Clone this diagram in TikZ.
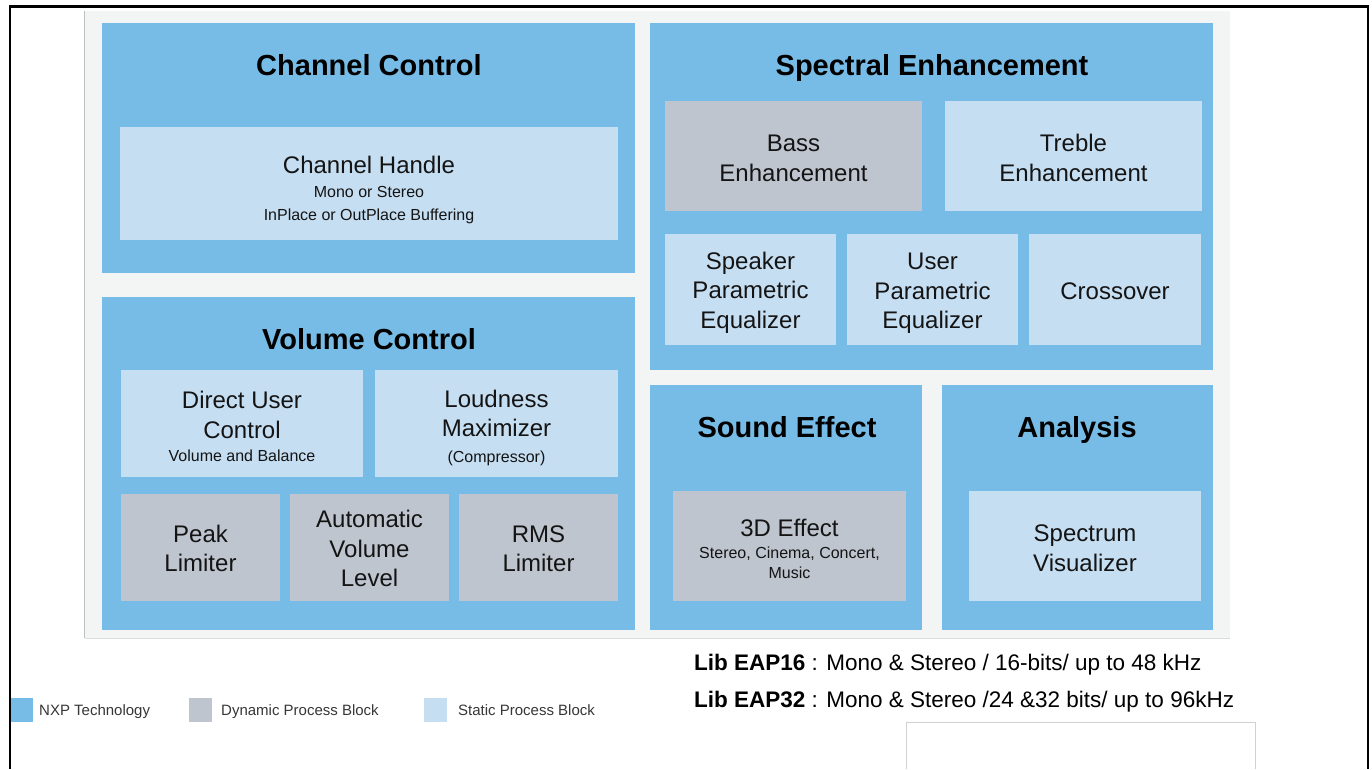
\documentclass[tikz,border=0pt]{standalone}
\usepackage{fontspec}
\setmainfont{Liberation Sans}
\definecolor{nxpblue}{RGB}{119,188,230}
\definecolor{statblk}{RGB}{198,222,242}
\definecolor{dynblk}{RGB}{191,197,206}
\definecolor{panelbg}{RGB}{243,244,244}
\definecolor{paneledge}{RGB}{190,192,192}
\definecolor{txt}{RGB}{20,20,20}
\definecolor{legtxt}{RGB}{55,55,55}
\tikzset{
  box/.style={rectangle, inner sep=0pt, outer sep=0pt, draw=none, align=center, text=txt,
              font=\fontsize{24}{29.5}\selectfont},
  group/.style={box, fill=nxpblue},
  statbox/.style={box, fill=statblk},
  dynbox/.style={box, fill=dynblk},
  title/.style={anchor=base, inner sep=0pt, text=black, font=\bfseries\fontsize{29}{34}\selectfont},
  legsq/.style={rectangle, inner sep=0pt, minimum width=23pt, minimum height=24pt},
  legtext/.style={anchor=base west, inner sep=0pt, text=legtxt, font=\fontsize{15}{18}\selectfont},
  libtext/.style={anchor=base west, inner sep=0pt, text=black, font=\fontsize{22.5}{27}\selectfont},
}
\newcommand{\smalltxt}{\fontsize{16}{19}\selectfont}
% invisible strut that moves the text of a box down by #1 pt
\newcommand{\dn}[1]{\rule{0pt}{\dimexpr 17.5pt + #1pt*2\relax}}
\begin{document}
\begin{tikzpicture}[x=1pt,y=-1pt]
\useasboundingbox (0,0) rectangle (1372,769);
\fill[white] (0,0) rectangle (1372,769);
% outer frame
\draw[line width=2.5pt, black] (10,769) -- (10,6.5) -- (1368,6.5) -- (1368,769);
% panel background
\node[rectangle, fill=panelbg, inner sep=0pt, minimum width=1145pt, minimum height=627pt] (panel) at (657.5,324.5) {};
\draw[paneledge, line width=1pt] (panel.north west) -- (panel.south west);
\draw[panelbg!90!black, line width=0.6pt] (panel.south west) -- (panel.south east);

% Channel Control
\node[group, minimum width=533pt, minimum height=250pt] (chan) at (368.5,148) {};
\node[title] (chantitle) at (369,75.5) {Channel Control};
\node[statbox, minimum width=498pt, minimum height=113pt] (handle) at (369,183.5)
  {\dn{6.5}Channel Handle\\[-6pt]\smalltxt Mono or Stereo\\[-6.5pt]\smalltxt InPlace or OutPlace Buffering};

% Volume Control
\node[group, minimum width=533pt, minimum height=333pt] (vol) at (368.5,463.5) {};
\node[title] (voltitle) at (369,349.5) {Volume Control};
\node[statbox, minimum width=242pt, minimum height=107pt] (duc) at (242,423.5)
  {\dn{3}Direct User\\Control\\[-6pt]\smalltxt Volume and Balance};
\node[statbox, minimum width=243pt, minimum height=107pt] (loud) at (496.5,423.5)
  {\dn{4}Loudness\\Maximizer\\[-4pt]\smalltxt (Compressor)};
\node[dynbox, minimum width=159pt, minimum height=107pt] (peak) at (200.5,547.5)
  {\dn{1}Peak\\Limiter};
\node[dynbox, minimum width=159pt, minimum height=107pt] (avl) at (369.5,547.5)
  {\dn{1}Automatic\\Volume\\Level};
\node[dynbox, minimum width=159pt, minimum height=107pt] (rms) at (538.5,547.5)
  {\dn{1}RMS\\Limiter};

% Spectral Enhancement
\node[group, minimum width=563pt, minimum height=347pt] (spec) at (931.5,196.5) {};
\node[title] (spectitle) at (932,75.5) {Spectral Enhancement};
\node[dynbox, minimum width=257pt, minimum height=110pt] (bass) at (793.5,156)
  {\dn{2}Bass\\Enhancement};
\node[statbox, minimum width=257pt, minimum height=110pt] (treble) at (1073.5,156)
  {\dn{2}Treble\\Enhancement};
\node[statbox, minimum width=171pt, minimum height=111pt] (spk) at (750.5,289.5)
  {\dn{3}Speaker\\Parametric\\Equalizer};
\node[statbox, minimum width=171pt, minimum height=111pt] (upe) at (932.5,289.5)
  {\dn{3.5}User\\Parametric\\Equalizer};
\node[statbox, minimum width=172pt, minimum height=111pt] (xover) at (1115,289.5)
  {\dn{1}Crossover};

% Sound Effect
\node[group, minimum width=272pt, minimum height=245pt] (snd) at (786,507.5) {};
\node[title] (sndtitle) at (787,437.5) {Sound Effect};
\node[dynbox, minimum width=233pt, minimum height=110pt] (d3) at (789.5,546)
  {\dn{3}3D Effect\\[-8pt]\smalltxt Stereo, Cinema, Concert,\\[-9.5pt]\smalltxt Music};

% Analysis
\node[group, minimum width=271pt, minimum height=245pt] (ana) at (1077.5,507.5) {};
\node[title] (anatitle) at (1077,437.5) {Analysis};
\node[statbox, minimum width=232pt, minimum height=110pt] (viz) at (1085,546)
  {\dn{2}Spectrum\\Visualizer};

% library notes
\node[libtext] (lib16) at (694,670) {\textbf{Lib EAP16} : Mono \& Stereo / 16-bits/ up to 48 kHz};
\node[libtext] (lib32) at (694,707) {\textbf{Lib EAP32} : Mono \& Stereo /24 \&32 bits/ up to 96kHz};

% empty box bottom right
\draw[black!18, line width=1pt] (906,769) -- (906,722) -- (1255,722) -- (1255,769);

% legend
\node[legsq, fill=nxpblue] (lg1) at (21.5,710) {};
\node[legtext] (lt1) at (39,715.5) {NXP Technology};
\node[legsq, fill=dynblk] (lg2) at (200.5,710) {};
\node[legtext] (lt2) at (221,715.5) {Dynamic Process Block};
\node[legsq, fill=statblk] (lg3) at (435.5,710) {};
\node[legtext] (lt3) at (458,715.5) {Static Process Block};
\draw[line width=2.5pt, black] (10,690) -- (10,769);
\end{tikzpicture}
\end{document}
